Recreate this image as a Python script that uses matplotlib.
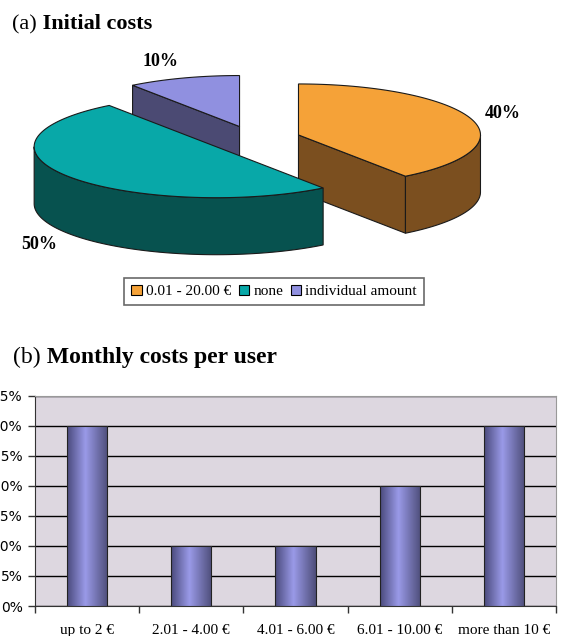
import matplotlib
matplotlib.use('Agg')
import matplotlib.pyplot as plt
import numpy as np
from matplotlib.patches import Polygon, Patch
from matplotlib.colors import LinearSegmentedColormap

# ── Data ────────────────────────────────────────────────────────────────
pie_labels = ['0.01 - 20.00 €', 'none', 'individual amount']
pie_values = [40, 50, 10]
pie_top = ['#f5a238', '#08a8a8', '#9090e0']
pie_side = ['#7b4f1f', '#07524f', '#4b4a73']

bar_cats = ['up to 2 €', '2.01 - 4.00 €', '4.01 - 6.00 €', '6.01 - 10.00 €', 'more than 10 €']
bar_values = [30, 10, 10, 20, 30]
y_ticks = [0, 5, 10, 15, 20, 25, 30, 35]

SERIF = 'Liberation Serif'
W, H = 562, 636
fig = plt.figure(figsize=(W / 100, H / 100), dpi=100)

# ── Pixel-space overlay for the 3D pie ─────────────────────────────────
pax = fig.add_axes([0, 0, 1, 1])
pax.set_xlim(0, W)
pax.set_ylim(H, 0)
pax.axis('off')

cx0, cy0 = 254, 139          # pie centre
ra, rb, depth = 182, 51, 57  # ellipse radii and thickness
explode = 0.257


def arc(cx, cy, lo, hi, n=120):
    t = np.radians(np.linspace(lo, hi, n))
    return np.column_stack([cx + ra * np.cos(t), cy - rb * np.sin(t)])


slices = []
start = 90.0
total = sum(pie_values)
for v, ct, cs in zip(pie_values, pie_top, pie_side):
    hi = start
    lo = start - 360.0 * v / total
    mid = np.radians((lo + hi) / 2)
    cx = cx0 + explode * ra * np.cos(mid)
    cy = cy0 - explode * rb * np.sin(mid)
    slices.append(dict(v=v, lo=lo, hi=hi, mid=mid, cx=cx, cy=cy, ct=ct, cs=cs))
    start = lo

ec = '#1a1a1a'
for s in sorted(slices, key=lambda d: d['cy']):
    cx, cy, lo, hi = s['cx'], s['cy'], s['lo'], s['hi']
    # radial cut faces that face the viewer
    for ang, vis in [(lo, np.cos(np.radians(lo)) > 1e-6), (hi, np.cos(np.radians(hi)) < -1e-6)]:
        if vis:
            ex, ey = arc(cx, cy, ang, ang, 1)[0]
            quad = [(cx, cy), (ex, ey), (ex, ey + depth), (cx, cy + depth)]
            pax.add_patch(Polygon(quad, closed=True, fc=s['cs'], ec=ec, lw=0.8))
    # curved outer side, front part only
    for k in (-1, 0, 1):
        a0 = max(lo, -180 + 360 * k)
        a1 = min(hi, 360 * k)
        if a1 > a0:
            top = arc(cx, cy, a0, a1)
            bot = top[::-1] + [0, depth]
            pax.add_patch(Polygon(np.vstack([top, bot]), closed=True,
                                  fc=s['cs'], ec=ec, lw=0.8))
    # top face
    pts = np.vstack([[cx, cy], arc(cx, cy, lo, hi)])
    pax.add_patch(Polygon(pts, closed=True, fc=s['ct'], ec=ec, lw=0.8))
    # percentage label
    sm, cm = np.sin(s['mid']), np.cos(s['mid'])
    lx = cx + (1.18 if cm > 0 else 1.2) * ra * cm - (12 if sm > 0.5 else 0)
    ly = cy - 1.35 * rb * sm + (depth if sm < 0 else 0)
    pax.text(lx, ly, f"{s['v']}%", family=SERIF, weight='bold', size=13,
             ha='center', va='center')

leg = fig.legend(handles=[Patch(fc=c, ec='black', lw=0.8) for c in pie_top],
                 labels=pie_labels, loc='center',
                 bbox_to_anchor=(274 / W, 1 - 291.5 / H), ncol=3,
                 frameon=True, fancybox=False, edgecolor='#444444',
                 prop={'family': SERIF, 'size': 11},
                 handlelength=0.7, handleheight=0.7, handletextpad=0.25,
                 columnspacing=0.5, borderpad=0.45, borderaxespad=0)
leg.get_frame().set_linewidth(1.2)

# ── Titles with mixed weight ───────────────────────────────────────────
renderer = fig.canvas.get_renderer()


def mixed_title(x, y, pre, bold, size):
    t = fig.text(x / W, 1 - y / H, pre, family=SERIF, size=size, va='baseline')
    bb = t.get_window_extent(renderer)
    fig.text(bb.x1 / W, 1 - y / H, bold, family=SERIF, size=size,
             weight='bold', va='baseline')


mixed_title(12, 29, '(a)', ' Initial costs', 16)
mixed_title(13, 363, '(b)', ' Monthly costs per user', 17)

# ── Bar chart ──────────────────────────────────────────────────────────
bax = fig.add_axes([35 / W, 1 - 606 / H, (556 - 35) / W, (606 - 395.7) / H])
bax.set_facecolor('#ddd7e0')
x = np.arange(len(bar_cats))
bars = bax.bar(x, bar_values, width=0.385, fc='none', edgecolor='#222222',
               linewidth=0.8, zorder=4)
cmap = LinearSegmentedColormap.from_list(
    'cyl', [(0, '#4a4a7c'), (0.45, '#9a9ae8'), (1, '#4e4e7a')])
grad = np.linspace(0, 1, 128).reshape(1, -1)
for r in bars:
    im = bax.imshow(grad, cmap=cmap, aspect='auto', interpolation='bilinear',
                    extent=(r.get_x(), r.get_x() + r.get_width(), 0, r.get_height()),
                    zorder=3)
    im.set_clip_path(r)

bax.set_xlim(-0.5, len(bar_cats) - 0.5)
bax.set_ylim(0, 35)
bax.set_yticks(y_ticks)
bax.set_yticklabels([f'{t}%' for t in y_ticks], family='DejaVu Sans', size=10)
bax.yaxis.grid(True, color='black', lw=1)
bax.set_axisbelow(True)
bax.tick_params(axis='y', length=5, width=1, color='#333333', pad=4)

bax.set_xticks(x)
bax.set_xticklabels(bar_cats, family=SERIF, size=11)
bax.set_xticks(np.arange(len(bar_cats) + 1) - 0.5, minor=True)
bax.tick_params(axis='x', which='major', length=0, pad=13)
bax.tick_params(axis='x', which='minor', length=5, width=1, color='#333333')

for side in ['left', 'bottom']:
    bax.spines[side].set_color('#333333')
for side in ['top', 'right']:
    bax.spines[side].set_color('#999999')

fig.savefig('out.png', dpi=100)
